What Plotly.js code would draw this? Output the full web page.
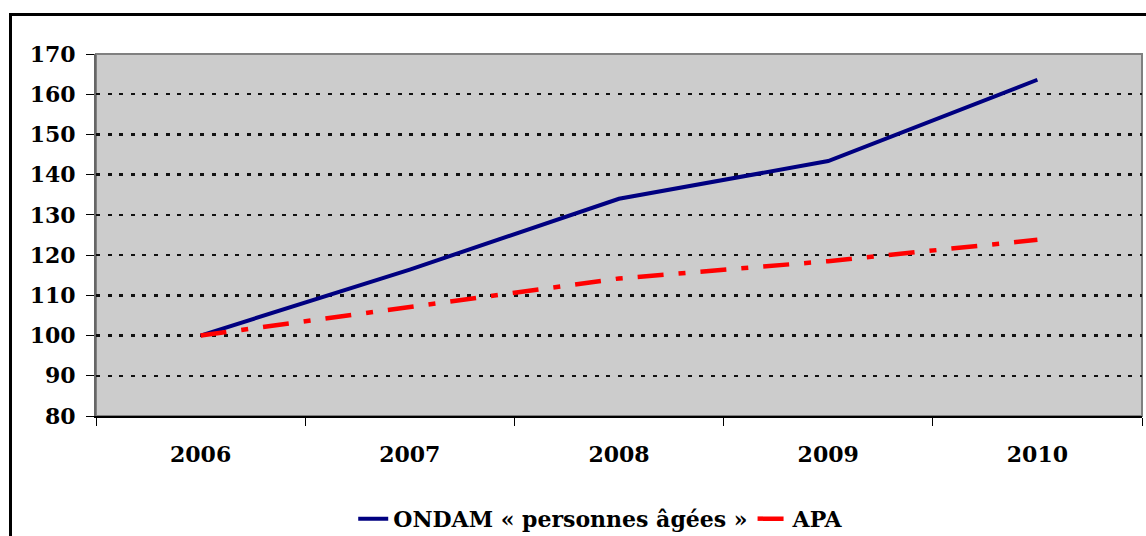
<!DOCTYPE html>
<html>
<head>
<meta charset="utf-8">
<script src="https://cdn.plot.ly/plotly-3.0.1.min.js"></script>
<style>
  body { margin: 0; background: #fff; }
  #wrap { position: relative; width: 1146px; height: 536px; overflow: hidden; }
  #chart { width: 1146px; height: 536px; }
  #frame { position: absolute; left: 9px; top: 13px; width: 1150px; height: 540px;
           border: 3px solid #000; pointer-events: none; }
</style>
</head>
<body>
<div id="wrap">
  <div id="chart"></div>
  <div id="frame"></div>
</div>
<script>
// years on the x axis
const years = ['2006', '2007', '2008', '2009', '2010'];
// index base 100 in 2006
const ondam = [100, 116.4, 134.0, 143.4, 163.6];
const apa = [100, 107.2, 114.2, 118.5, 123.8];

const font = 'DejaVu Serif, Liberation Serif, serif';

const traces = [
    {
        x: years, y: ondam, name: 'ONDAM « personnes âgées »',
        type: 'scatter', mode: 'lines',
        line: { color: '#000080', width: 4 }
    },
    {
        x: years, y: apa, name: 'APA',
        type: 'scatter', mode: 'lines',
        line: { color: '#ff0000', width: 4.5, dash: '26px,15px,7px,15px' }
    }
];

const layout = {
    width: 1146,
    height: 536,
    margin: { l: 96, r: 4, t: 54, b: 120 },
    paper_bgcolor: '#ffffff',
    plot_bgcolor: '#cccccc',
    font: { family: font, size: 22, color: '#000' },
    showlegend: true,
    legend: {
        orientation: 'h',
        x: 0.483, xanchor: 'center',
        yref: 'container', y: 0.032, yanchor: 'middle',
        font: { family: font, size: 22, color: '#000', weight: 'bold' },
        bgcolor: 'rgba(0,0,0,0)'
    },
    xaxis: {
        type: 'category',
        range: [-0.5, 4.5],
        tickson: 'boundaries',
        ticks: 'outside', ticklen: 8, tickwidth: 1, tickcolor: '#000',
        showline: true, linecolor: '#000', linewidth: 2,
        showgrid: false, zeroline: false,
        ticklabelstandoff: 18,
        tickfont: { family: font, size: 22, weight: 'bold' }
    },
    yaxis: {
        range: [80, 170],
        dtick: 10,
        ticks: 'outside', ticklen: 8, tickwidth: 1, tickcolor: '#000',
        showline: true, linecolor: '#666', linewidth: 2,
        showgrid: true, gridcolor: '#111', gridwidth: 2.5, griddash: '4px,7.6px',
        zeroline: false,
        ticklabelstandoff: 6,
        tickfont: { family: font, size: 22, weight: 'bold' }
    },
    shapes: [
        {
            type: 'rect', xref: 'paper', yref: 'paper',
            x0: 0, x1: 1, y0: 0, y1: 1,
            line: { color: '#808080', width: 2 },
            layer: 'below'
        }
    ]
};

Plotly.newPlot('chart', traces, layout, { displayModeBar: false, staticPlot: true });
</script>
</body>
</html>
